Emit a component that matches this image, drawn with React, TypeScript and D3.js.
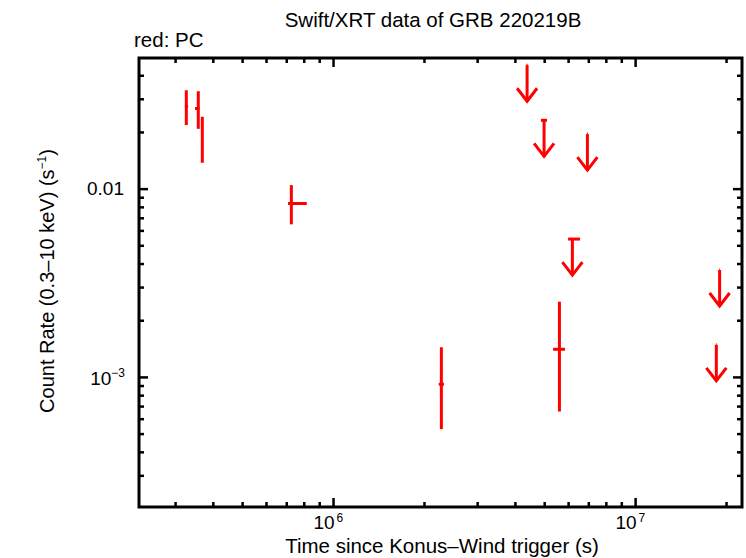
import React from "react";
import * as d3 from "d3";

// ---- data ----
const detTime = [3.256e5, 3.567e5, 3.678e5, 7.25e5, 2.275e6, 5.595e6];
const detTimeLo = [3.22e5, 3.478e5, 3.66e5, 7.07e5, 2.23e6, 5.33e6];
const detTimeHi = [3.3e5, 3.6e5, 3.69e5, 8.155e5, 2.32e6, 5.84e6];
const detRate = [0.0275, 0.0268, 0.0238, 0.00839, 9.2e-4, 1.411e-3];
const detRateLo = [0.0219, 0.0209, 0.0138, 0.0065, 5.31e-4, 6.59e-4];
const detRateHi = [0.0335, 0.0331, 0.0242, 0.0105, 1.446e-3, 2.525e-3];

const ulTime = [4.373e6, 4.977e6, 6.925e6, 6.176e6, 1.897e7, 1.85e7];
const ulTimeLo = [4.35e6, 4.86e6, 6.9e6, 5.977e6, 1.892e7, 1.845e7];
const ulTimeHi = [4.39e6, 5.09e6, 6.95e6, 6.55e6, 1.902e7, 1.855e7];
const ulRate = [0.0455, 0.0232, 0.0196, 5.43e-3, 3.72e-3, 1.49e-3];

const xDomain = [2.27e5, 2.25e7];
const yDomain = [2.05e-4, 0.0497];
const xMajor = [1e6, 1e7];
const xMajorExp = ["6", "7"];
const xMinor = [3e5, 4e5, 5e5, 6e5, 7e5, 8e5, 9e5, 2e6, 3e6, 4e6, 5e6, 6e6, 7e6, 8e6, 9e6, 2e7];
const yMajor = [1e-3, 1e-2];
const yMinor = [3e-4, 4e-4, 5e-4, 6e-4, 7e-4, 8e-4, 9e-4, 2e-3, 3e-3, 4e-3, 5e-3, 6e-3, 7e-3, 8e-3, 9e-3, 2e-2, 3e-2, 4e-2];

const titleText = "Swift/XRT data of GRB 220219B";
const legendText = "red: PC";
const xLabel = "Time since Konus\u2013Wind trigger (s)";

export default function App() {
  const W = 746, H = 558;
  const L = 139, R = 742, T = 58, B = 507;
  const x = d3.scaleLog().domain(xDomain).range([L, R]);
  const y = d3.scaleLog().domain(yDomain).range([B, T]);
  const red = "#ff0000";
  const font = "'Liberation Sans', Arial, Helvetica, sans-serif";
  const majLen = 9, minLen = 5;
  const arrowLen = 36;

  return (
    <svg width={W} height={H} style={{ position: "absolute", left: 0, top: 0, background: "#fff" }}
      fontFamily={font}>
      <rect x={0} y={0} width={W} height={H} fill="#fff" />
      {/* ticks */}
      <g stroke="#000" strokeWidth={2.5}>
        {xMajor.map((v, i) => (
          <g key={"xM" + i}>
            <line x1={x(v)} x2={x(v)} y1={B} y2={B - majLen} />
            <line x1={x(v)} x2={x(v)} y1={T} y2={T + majLen} />
          </g>
        ))}
        {xMinor.map((v, i) => (
          <g key={"xm" + i}>
            <line x1={x(v)} x2={x(v)} y1={B} y2={B - minLen} />
            <line x1={x(v)} x2={x(v)} y1={T} y2={T + minLen} />
          </g>
        ))}
        {yMajor.map((v, i) => (
          <g key={"yM" + i}>
            <line x1={L} x2={L + majLen} y1={y(v)} y2={y(v)} />
            <line x1={R} x2={R - majLen} y1={y(v)} y2={y(v)} />
          </g>
        ))}
        {yMinor.map((v, i) => (
          <g key={"ym" + i}>
            <line x1={L} x2={L + minLen} y1={y(v)} y2={y(v)} />
            <line x1={R} x2={R - minLen} y1={y(v)} y2={y(v)} />
          </g>
        ))}
      </g>
      <rect x={L} y={T} width={R - L} height={B - T} fill="none" stroke="#000" strokeWidth={3} />

      {/* detections */}
      <g stroke={red} strokeWidth={3}>
        {detTime.map((t, i) => (
          <g key={"d" + i}>
            <line x1={x(t)} x2={x(t)} y1={y(detRateLo[i])} y2={y(detRateHi[i])} />
            <line x1={x(detTimeLo[i])} x2={x(detTimeHi[i])} y1={y(detRate[i])} y2={y(detRate[i])} />
          </g>
        ))}
      </g>

      {/* upper limits */}
      <g stroke={red} strokeWidth={3} fill="none">
        {ulTime.map((t, i) => {
          const px = x(t), py = y(ulRate[i]);
          const tip = py + arrowLen;
          return (
            <g key={"u" + i}>
              <line x1={x(ulTimeLo[i])} x2={x(ulTimeHi[i])} y1={py} y2={py} />
              <line x1={px} x2={px} y1={py} y2={tip} />
              <polyline points={`${px - 10},${tip - 13} ${px},${tip} ${px + 10},${tip - 13}`} />
            </g>
          );
        })}
      </g>

      {/* tick labels */}
      <g fontSize={19} fill="#000">
        {xMajor.map((v, i) => (
          <text key={"xl" + i} x={x(v) + 1} y={529} textAnchor="end">
            10
          </text>
        ))}
        {xMajor.map((v, i) => (
          <text key={"xs" + i} x={x(v) + 3} y={522} fontSize={12}>
            {xMajorExp[i]}
          </text>
        ))}
        <text x={124} y={195} textAnchor="end">0.01</text>
        <text x={125} y={384.5} textAnchor="end">
          10<tspan fontSize={12} dy={-7.5}>{"\u22123"}</tspan>
        </text>
      </g>

      {/* titles */}
      <text x={433} y={27} fontSize={20.5} textAnchor="middle">{titleText}</text>
      <text x={134} y={47} fontSize={20.5}>{legendText}</text>
      <text x={442} y={553} fontSize={20.5} textAnchor="middle">{xLabel}</text>
      <text transform="translate(54,281) rotate(-90)" fontSize={20} textAnchor="middle">
        Count Rate (0.3{"\u2013"}10 keV) (s<tspan fontSize={12} dy={-8}>{"\u22121"}</tspan>
        <tspan dy={8}>)</tspan>
      </text>
    </svg>
  );
}
